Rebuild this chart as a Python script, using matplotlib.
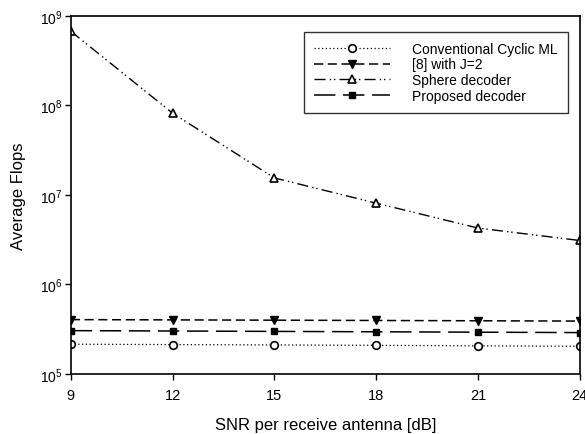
import matplotlib
matplotlib.use("Agg")
import matplotlib.pyplot as plt
from matplotlib.ticker import FixedLocator

plt.rcParams['font.family'] = ['Liberation Sans', 'DejaVu Sans']
plt.rcParams['mathtext.default'] = 'regular'

snr = [9, 12, 15, 18, 21, 24]
conventional = [2.15e5, 2.13e5, 2.11e5, 2.09e5, 2.06e5, 2.04e5]
ref8_j2 = [4.05e5, 4.02e5, 3.99e5, 3.96e5, 3.93e5, 3.9e5]
sphere = [6.75e8, 8.2e7, 1.55e7, 8.1e6, 4.27e6, 3.1e6]
proposed = [3.05e5, 3.02e5, 2.99e5, 2.96e5, 2.93e5, 2.9e5]

fig = plt.figure(figsize=(5.85, 4.35), dpi=100)
ax = fig.add_axes([0.121, 0.138, 0.870, 0.823])

ax.plot(snr, conventional, color='black', lw=0.9, linestyle=(0, (1, 2)),
        marker='o', mfc='white', mec='black', ms=5.5, mew=1.2, label='Conventional Cyclic ML')
ax.plot(snr, ref8_j2, color='black', lw=1.1, linestyle=(0, (6, 3)),
        marker='v', mfc='black', mec='black', ms=6, label='[8] with J=2')
ax.plot(snr, sphere, color='black', lw=1.0, linestyle=(0, (8, 3, 1, 2, 1, 3)),
        marker='^', mfc='white', mec='black', ms=6, mew=1.2, label='Sphere decoder')
ax.plot(snr, proposed, color='black', lw=1.1, linestyle=(0, (14, 5)),
        marker='s', mfc='black', mec='black', ms=5, label='Proposed decoder')

ax.set_yscale('log')
ax.set_xlim(9, 24)
ax.set_ylim(1e5, 1e9)
ax.set_xticks(snr)
ax.yaxis.set_major_locator(FixedLocator([1e5, 1e6, 1e7, 1e8, 1e9]))
ax.yaxis.set_minor_locator(FixedLocator([]))
ax.set_yticklabels(['$10^5$', '$10^6$', '$10^7$', '$10^8$', '$10^9$'])
ax.tick_params(axis='x', direction='out', length=4, labelsize=10.5, width=1, pad=6)
ax.tick_params(axis='y', direction='out', length=4, labelsize=10, width=1, pad=2)

for s in ax.spines.values():
    s.set_linewidth(1.2)

ax.set_xlabel('SNR per receive antenna [dB]', fontsize=12, labelpad=11)
ax.set_ylabel('Average Flops', fontsize=12, labelpad=10)

leg = ax.legend(loc='upper right', bbox_to_anchor=(0.976, 0.955), fontsize=10,
                handlelength=5.5, frameon=True, fancybox=False, edgecolor='black',
                borderpad=0.7, labelspacing=0.12, handletextpad=1.6, borderaxespad=0)
leg.get_frame().set_linewidth(1.0)

fig.savefig('out.png', dpi=100)
